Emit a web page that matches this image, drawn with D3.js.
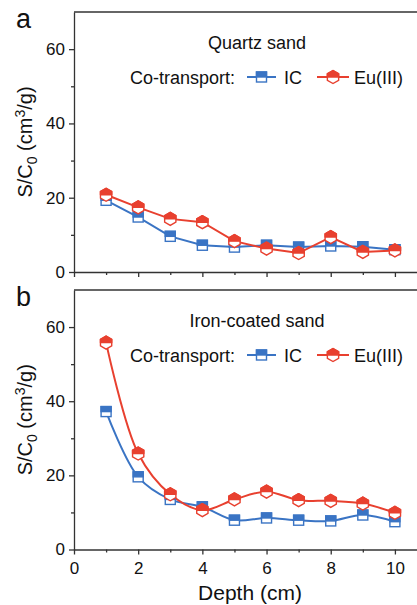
<!DOCTYPE html>
<html><head><meta charset="utf-8">
<script src="https://cdn.jsdelivr.net/npm/d3@7"></script>
<style>body{margin:0;background:#fff}svg{display:block}text{font-family:"Liberation Sans",Arial,sans-serif;fill:#111}</style>
</head><body><svg id="c" width="417" height="605"></svg>
<script>
const depth = [1,2,3,4,5,6,7,8,9,10];
const quartzIC = [19.3,14.8,9.6,7.2,6.7,7.2,6.7,7.0,6.8,6.0];
const quartzEu = [20.8,17.4,14.3,13.4,8.3,6.3,5.1,9.4,5.4,5.8];
const ironIC = [37.2,19.6,13.5,11.5,7.9,8.5,7.9,7.7,9.3,7.5];
const ironEu = [55.8,25.9,14.9,10.6,13.5,15.6,13.3,13.1,12.4,9.9];
const panelTitles = ["Quartz sand","Iron-coated sand"];
const panelLetters = ["a","b"];
const yTicks = [0,20,40,60];
const xTicks = [0,2,4,6,8,10];
const legendLabels = ["IC","Eu(III)"];

const BLUE = "#3a74c4", RED = "#e8402f", AX = "#333";
const svg = d3.select("#c");
const x = d3.scaleLinear().domain([0,11]).range([74,427]);

const panels = [
  {top:12, bottom:272, ic:quartzIC, eu:quartzEu, curve:d3.curveLinear, labels:false},
  {top:290, bottom:549.5, ic:ironIC, eu:ironEu, curve:d3.curveCatmullRom.alpha(0.5), labels:true}
];

function square(g, cx, cy, s){
  g.append("rect").attr("x",cx-s/2).attr("y",cy-s/2).attr("width",s).attr("height",s)
    .attr("fill","#fff").attr("stroke",BLUE).attr("stroke-width",1.4);
  g.append("rect").attr("x",cx-s/2).attr("y",cy-s/2).attr("width",s).attr("height",s/2)
    .attr("fill",BLUE).attr("stroke",BLUE).attr("stroke-width",1.4);
}
function hexagon(g, cx, cy, r){
  const pts = d3.range(6).map(i=>{const a=Math.PI/2 + i*Math.PI/3; return [cx+r*Math.cos(a), cy-r*Math.sin(a)];});
  g.append("polygon").attr("points",pts.map(p=>p.join(",")).join(" "))
    .attr("fill","#fff").attr("stroke",RED).attr("stroke-width",1.4);
  const w = r*Math.cos(Math.PI/6);
  const top = [[cx-w,cy],[cx-w,cy-r/2],[cx,cy-r],[cx+w,cy-r/2],[cx+w,cy]];
  g.append("polygon").attr("points",top.map(p=>p.join(",")).join(" "))
    .attr("fill",RED).attr("stroke",RED).attr("stroke-width",1.4).attr("stroke-linejoin","round");
}

panels.forEach((p,pi)=>{
  const y = d3.scaleLinear().domain([0,70]).range([p.bottom,p.top]);
  const g = svg.append("g");
  g.append("line").attr("x1",x(0)).attr("x2",x(11)).attr("y1",p.top).attr("y2",p.top).attr("stroke",AX).attr("stroke-width",1.3);
  const xa = g.append("g").attr("transform",`translate(0,${p.bottom})`)
    .call(d3.axisBottom(x).tickValues(xTicks).tickSize(5).tickSizeOuter(0).tickFormat(p.labels?d3.format("d"):""));
  xa.append("g").call(d3.axisBottom(x).tickValues([1,3,5,7,9]).tickSize(3).tickFormat("")).select(".domain").remove();
  const ya = g.append("g").attr("transform",`translate(${x(0)},0)`)
    .call(d3.axisLeft(y).tickValues(yTicks).tickSize(5).tickSizeOuter(0).tickFormat(d3.format("d")));
  ya.append("g").call(d3.axisLeft(y).tickValues([10,30,50]).tickSize(3).tickFormat("")).select(".domain").remove();
  g.selectAll(".domain").attr("stroke",AX).attr("stroke-width",1.3);
  g.selectAll(".tick line").attr("stroke",AX).attr("stroke-width",1.3);
  g.selectAll(".tick text").attr("font-size",17).attr("font-family","Liberation Sans, Arial, sans-serif").attr("fill","#111");
  xa.selectAll(".tick text").attr("dy","0.95em");
  ya.selectAll(".tick text").attr("dx","-1px");
  g.append("text").attr("x",16).attr("y",p.top+16).attr("font-size",27).text(panelLetters[pi]);
  const t = g.append("text").attr("transform",`translate(32,${(p.top+p.bottom)/2}) rotate(-90)`)
    .attr("text-anchor","middle").attr("font-size",20);
  t.append("tspan").text("S/C");
  t.append("tspan").attr("font-size",14).attr("dy",5).text("0");
  t.append("tspan").attr("dy",-5).text(" (cm");
  t.append("tspan").attr("font-size",14).attr("dy",-7).text("3");
  t.append("tspan").attr("dy",7).text("/g)");
  const line = d3.line().x((d,i)=>x(depth[i])).y(d=>y(d)).curve(p.curve);
  g.append("path").attr("d",line(p.ic)).attr("fill","none").attr("stroke",BLUE).attr("stroke-width",2);
  g.append("path").attr("d",line(p.eu)).attr("fill","none").attr("stroke",RED).attr("stroke-width",2);
  p.ic.forEach((v,i)=>square(g,x(depth[i]),y(v),10));
  p.eu.forEach((v,i)=>hexagon(g,x(depth[i]),y(v),6.5));
  g.append("text").attr("x",257).attr("y",p.top+37).attr("text-anchor","middle").attr("font-size",18).text(panelTitles[pi]);
  const ly = p.top+65;
  g.append("text").attr("x",130).attr("y",ly+6.5).attr("font-size",18).text("Co-transport:");
  g.append("line").attr("x1",247).attr("x2",276).attr("y1",ly).attr("y2",ly).attr("stroke",BLUE).attr("stroke-width",2);
  square(g,261.5,ly,10);
  g.append("text").attr("x",284).attr("y",ly+6.5).attr("font-size",18).text(legendLabels[0]);
  g.append("line").attr("x1",317).attr("x2",349).attr("y1",ly).attr("y2",ly).attr("stroke",RED).attr("stroke-width",2);
  hexagon(g,333,ly,6.5);
  g.append("text").attr("x",354).attr("y",ly+6.5).attr("font-size",18).text(legendLabels[1]);
});
svg.append("text").attr("x",250).attr("y",600).attr("text-anchor","middle").attr("font-size",21).text("Depth (cm)");
</script></body></html>
